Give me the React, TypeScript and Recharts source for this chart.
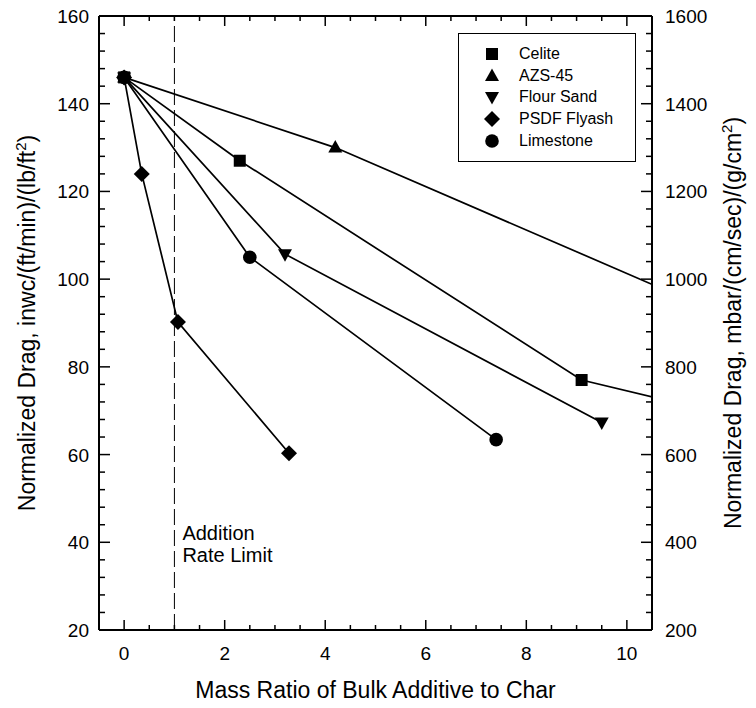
import { LineChart, Line, XAxis, YAxis, ReferenceLine, Legend } from "recharts";

// ── Data ────────────────────────────────────────────────────────────────────

const celiteX = [0, 2.3, 9.1, 12];
const celiteY = [146, 127, 77, 69];

const azsX = [0, 4.2, 12];
const azsY = [146, 130, 91.4];

const flourSandX = [0, 3.2, 9.5];
const flourSandY = [146, 105.7, 67.3];

const flyashX = [0, 0.35, 1.07, 3.28];
const flyashY = [146, 124, 90.2, 60.3];

const limestoneX = [0, 2.5, 7.4];
const limestoneY = [146, 105, 63.4];

const xMajorTicks = [0, 2, 4, 6, 8, 10];
const leftMajorTicks = [20, 40, 60, 80, 100, 120, 140, 160];
const rightMajorTicks = [200, 400, 600, 800, 1000, 1200, 1400, 1600];

const xDomain = [-0.5, 10.5];
const leftDomain = [20, 160];
const rightDomain = [200, 1600];

const rateLimit = 1;

type Shape = "square" | "triangle" | "triangleDown" | "diamond" | "circle";

const toPoints = (xs: number[], ys: number[]) => xs.map((x, i) => ({ x, v: ys[i] }));

const series: { name: string; shape: Shape; data: { x: number; v: number }[] }[] = [
  { name: "Celite", shape: "square", data: toPoints(celiteX, celiteY) },
  { name: "AZS-45", shape: "triangle", data: toPoints(azsX, azsY) },
  { name: "Flour Sand", shape: "triangleDown", data: toPoints(flourSandX, flourSandY) },
  { name: "PSDF Flyash", shape: "diamond", data: toPoints(flyashX, flyashY) },
  { name: "Limestone", shape: "circle", data: toPoints(limestoneX, limestoneY) },
];

// minor ticks between the majors
const withMinor = (majors: number[], parts: number) => {
  const out: number[] = [];
  for (let i = 0; i < majors.length; i++) {
    out.push(majors[i]);
    if (i < majors.length - 1) {
      const step = (majors[i + 1] - majors[i]) / parts;
      for (let k = 1; k < parts; k++) out.push(+(majors[i] + k * step).toFixed(4));
    }
  }
  return out;
};

const FONT = "'Liberation Sans', Arial, sans-serif";

// ── Markers ──────────────────────────────────────────────────────────────────

function Marker({ shape, cx, cy }: { shape: Shape; cx: number; cy: number }) {
  if (cx == null || cy == null) return null;
  switch (shape) {
    case "square":
      return <rect x={cx - 6} y={cy - 6} width={12} height={12} fill="#000" />;
    case "triangle":
      return <polygon points={`${cx},${cy - 7.5} ${cx + 7},${cy + 5} ${cx - 7},${cy + 5}`} fill="#000" />;
    case "triangleDown":
      return <polygon points={`${cx - 7},${cy - 5} ${cx + 7},${cy - 5} ${cx},${cy + 7.5}`} fill="#000" />;
    case "diamond":
      return <polygon points={`${cx},${cy - 8} ${cx + 8},${cy} ${cx},${cy + 8} ${cx - 8},${cy}`} fill="#000" />;
    default:
      return <circle cx={cx} cy={cy} r={6.8} fill="#000" />;
  }
}

// ── Ticks (inward, major + minor) ────────────────────────────────────────────

const isMajor = (v: number, majors: number[]) => majors.includes(v);

function BottomTick({ x, y, payload }: any) {
  const major = isMajor(payload.value, xMajorTicks);
  return (
    <g>
      <line x1={x} x2={x} y1={y} y2={y - (major ? 10 : 5)} stroke="#000" strokeWidth={1.5} />
      {major && (
        <text x={x} y={y + 30} textAnchor="middle" fontSize={19} fontFamily={FONT} fill="#000">
          {payload.value}
        </text>
      )}
    </g>
  );
}

function TopTick({ x, y, payload }: any) {
  const major = isMajor(payload.value, xMajorTicks);
  return <line x1={x} x2={x} y1={y} y2={y + (major ? 10 : 5)} stroke="#000" strokeWidth={1.5} />;
}

function LeftTick({ x, y, payload }: any) {
  const major = isMajor(payload.value, leftMajorTicks);
  return (
    <g>
      <line x1={x} x2={x + (major ? 11 : 6)} y1={y} y2={y} stroke="#000" strokeWidth={1.5} />
      {major && (
        <text x={x - 10} y={y + 7} textAnchor="end" fontSize={19} fontFamily={FONT} fill="#000">
          {payload.value}
        </text>
      )}
    </g>
  );
}

function RightTick({ x, y, payload }: any) {
  const major = isMajor(payload.value, rightMajorTicks);
  return (
    <g>
      <line x1={x} x2={x - (major ? 11 : 6)} y1={y} y2={y} stroke="#000" strokeWidth={1.5} />
      {major && (
        <text x={x + 13} y={y + 7} textAnchor="start" fontSize={19} fontFamily={FONT} fill="#000">
          {payload.value}
        </text>
      )}
    </g>
  );
}

// ── Axis titles ──────────────────────────────────────────────────────────────

function AxisTitle({ viewBox, kind }: any) {
  const { x, y, width, height } = viewBox;
  if (kind === "bottom") {
    return (
      <text x={x + width / 2} y={y + 68} textAnchor="middle" fontSize={23} fontFamily={FONT} fill="#000">
        Mass Ratio of Bulk Additive to Char
      </text>
    );
  }
  const bx = kind === "left" ? x + 35 : x + 89;
  const cy = y + height / 2;
  const text = kind === "left" ? "Normalized Drag, inwc/(ft/min)/(lb/ft" : "Normalized Drag, mbar/(cm/sec)/(g/cm";
  return (
    <text
      transform={`rotate(-90 ${bx} ${cy})`}
      x={bx}
      y={cy}
      textAnchor="middle"
      fontSize={23}
      fontFamily={FONT}
      fill="#000"
    >
      {text}
      <tspan dy={-9} fontSize={15}>2</tspan>
      <tspan dy={9}>)</tspan>
    </text>
  );
}

function RateLimitLabel({ viewBox }: any) {
  const { x, y, height } = viewBox;
  const base = y + height * 0.853;
  return (
    <text fontSize={20} fontFamily={FONT} fill="#000">
      <tspan x={x + 8} y={base}>Addition</tspan>
      <tspan x={x + 8} y={base + 22}>Rate Limit</tspan>
    </text>
  );
}

// ── Legend ───────────────────────────────────────────────────────────────────

function LegendBox() {
  return (
    <div
      style={{
        width: 178,
        height: 129,
        boxSizing: "border-box",
        border: "1px solid #000",
        background: "#fff",
        paddingTop: 9,
        fontFamily: FONT,
        fontSize: 16,
        color: "#000",
      }}
    >
      {series.map((s) => (
        <div key={s.name} style={{ display: "flex", alignItems: "center", height: 21.75 }}>
          <svg width={20} height={20} style={{ marginLeft: 23 }}>
            <Marker shape={s.shape} cx={10} cy={10} />
          </svg>
          <span style={{ marginLeft: 17, lineHeight: 1 }}>{s.name}</span>
        </div>
      ))}
    </div>
  );
}

// ── Main ─────────────────────────────────────────────────────────────────────

export default function App() {
  return (
    <div style={{ position: "absolute", left: 0, top: 0, background: "#fff" }}>
      <LineChart width={756} height={708} margin={{ top: 0, right: 0, bottom: 0, left: 0 }}>
        <XAxis
          xAxisId="b"
          type="number"
          dataKey="x"
          domain={xDomain}
          allowDataOverflow
          ticks={withMinor(xMajorTicks, 4)}
          interval={0}
          height={78}
          tickSize={0}
          tickMargin={0}
          tick={<BottomTick />}
          axisLine={{ stroke: "#000", strokeWidth: 2 }}
          label={<AxisTitle kind="bottom" />}
        />
        <XAxis
          xAxisId="t"
          orientation="top"
          type="number"
          dataKey="x"
          domain={xDomain}
          allowDataOverflow
          ticks={withMinor(xMajorTicks, 4)}
          interval={0}
          height={16}
          tickSize={0}
          tickMargin={0}
          tick={<TopTick />}
          axisLine={{ stroke: "#000", strokeWidth: 2 }}
        />
        <YAxis
          yAxisId="l"
          type="number"
          domain={leftDomain}
          allowDataOverflow
          ticks={withMinor(leftMajorTicks, 5)}
          interval={0}
          width={99}
          tickSize={0}
          tickMargin={0}
          tick={<LeftTick />}
          axisLine={{ stroke: "#000", strokeWidth: 2 }}
          label={<AxisTitle kind="left" />}
        />
        <YAxis
          yAxisId="r"
          orientation="right"
          type="number"
          domain={rightDomain}
          allowDataOverflow
          ticks={withMinor(rightMajorTicks, 5)}
          interval={0}
          width={104}
          tickSize={0}
          tickMargin={0}
          tick={<RightTick />}
          axisLine={{ stroke: "#000", strokeWidth: 2 }}
          label={<AxisTitle kind="right" />}
        />
        <ReferenceLine
          xAxisId="b"
          yAxisId="l"
          x={rateLimit}
          stroke="#000"
          strokeWidth={1}
          strokeDasharray="16 5"
          label={<RateLimitLabel />}
        />
        {series.map((s) => (
          <Line
            key={s.name}
            name={s.name}
            data={s.data}
            dataKey="v"
            xAxisId="b"
            yAxisId="l"
            type="linear"
            stroke="#000"
            strokeWidth={1.7}
            isAnimationActive={false}
            activeDot={false}
            dot={(p: any) => <Marker key={`${s.name}-${p.index}`} shape={s.shape} cx={p.cx} cy={p.cy} />}
          />
        ))}
        <Legend
          layout="horizontal"
          verticalAlign="middle"
          align="center"
          width={178}
          height={129}
          wrapperStyle={{ left: 458, top: 33, width: 178, height: 129 }}
          content={() => <LegendBox />}
        />
      </LineChart>
    </div>
  );
}
